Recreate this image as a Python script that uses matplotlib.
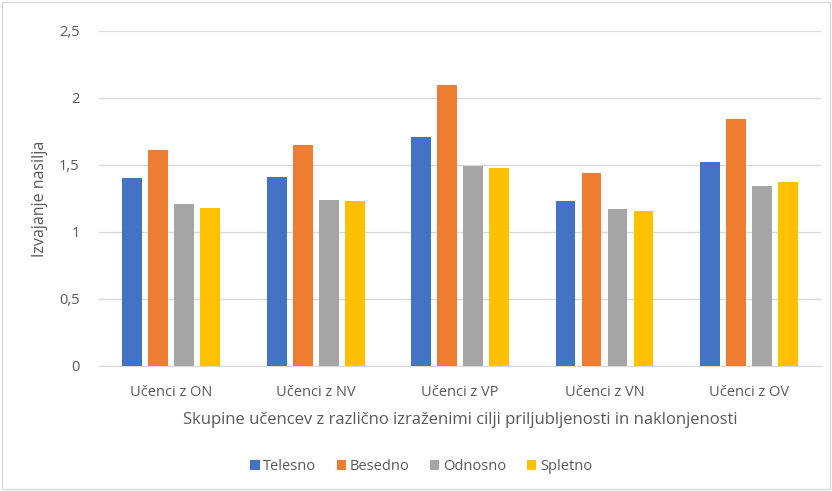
import numpy as np
import matplotlib.pyplot as plt
from matplotlib.patches import Rectangle

plt.rcParams['font.family'] = ['Open Sans', 'DejaVu Sans']

skupine = ['Učenci z ON', 'Učenci z NV', 'Učenci z VP', 'Učenci z VN', 'Učenci z OV']
telesno = [1.40, 1.41, 1.71, 1.23, 1.52]
besedno = [1.61, 1.65, 2.10, 1.44, 1.84]
odnosno = [1.21, 1.24, 1.49, 1.17, 1.34]
spletno = [1.18, 1.23, 1.48, 1.16, 1.37]
serije = ['Telesno', 'Besedno', 'Odnosno', 'Spletno']
barve = ['#4472C4', '#ED7D31', '#A5A5A5', '#FFC000']

fig = plt.figure(figsize=(8.32, 4.91), dpi=100)
ax = fig.add_axes([0.119, 0.2546, 0.868, 0.6824])

x = np.arange(len(skupine))
w = 0.138
korak = 0.18
for i, (vals, ime, c) in enumerate(zip([telesno, besedno, odnosno, spletno], serije, barve)):
    ax.bar(x + (i - 1.5) * korak, vals, w, color=c, label=ime, zorder=3)

ax.set_xlim(-0.5, len(skupine) - 0.5)
ax.set_ylim(0, 2.5)
ax.set_yticks([0, 0.5, 1, 1.5, 2, 2.5])
ax.set_yticklabels(['0', '0,5', '1', '1,5', '2', '2,5'])
ax.set_xticks(x)
ax.set_xticklabels(skupine)
ax.yaxis.grid(True, color='#D9D9D9', linewidth=1, zorder=0)
for s in ['top', 'right', 'left']:
    ax.spines[s].set_visible(False)
ax.spines['bottom'].set_color('#D9D9D9')
ax.tick_params(axis='both', length=0, colors='#595959', labelsize=10.5)
ax.tick_params(axis='x', pad=14)
ax.tick_params(axis='y', pad=14)

ax.set_ylabel('Izvajanje nasilja', fontsize=11.5, color='#595959', labelpad=8)
ax.set_xlabel('Skupine učencev z različno izraženimi cilji priljubljenosti in naklonjenosti',
              fontsize=12, color='#595959', labelpad=8)

fig.legend(loc='center', bbox_to_anchor=(0.506, 0.049), ncol=4, frameon=False,
           fontsize=10.5, labelcolor='#595959', handlelength=0.65, handleheight=0.65,
           handletextpad=0.25, columnspacing=1.4)

fig.patches.append(Rectangle((0.003, 0.004), 0.994, 0.992, transform=fig.transFigure,
                             fill=False, edgecolor='#D9D9D9', linewidth=1))

fig.savefig('out.png', dpi=100)
